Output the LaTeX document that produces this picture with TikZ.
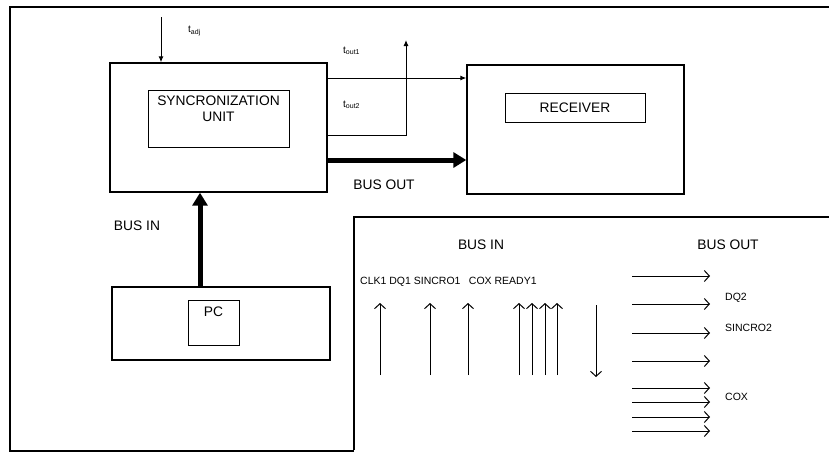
\documentclass[tikz,border=0pt]{standalone}
\usepackage{fontspec}
\setmainfont{Liberation Sans}
\usetikzlibrary{arrows,arrows.meta,positioning,calc}

\begin{document}
\begin{tikzpicture}[
    x=1pt, y=-1pt,
    frame/.style={line width=1.3pt},
    block/.style={draw, rectangle, line width=1.4pt, inner sep=0pt},
    inblock/.style={draw, rectangle, line width=1pt, inner sep=0pt},
    lbl/.style={font=\fontsize{13.8}{16}\selectfont, inner sep=0pt, align=center},
    sig/.style={font=\fontsize{10.5}{12}\selectfont, inner sep=0pt},
    tlbl/.style={font=\fontsize{10}{12}\selectfont, inner sep=0pt},
    bus/.style={line width=5pt, -{Triangle[length=13pt,width=15pt]}},
    wire/.style={line width=1pt, -{Latex[length=6pt,width=5pt]}},
    bitarrow/.style={line width=1pt, -{Straight Barb[length=5pt,width=11pt]}}
]
    \useasboundingbox (0,0) rectangle (829,453);
    \draw[frame] (829,7) -- (10,7) -- (10,451) -- (354,451);
    \draw[frame] (829,217) -- (354,217) -- (354,450);

    \node[block, minimum width=217pt, minimum height=129pt] (sync) at (218.5,127.5) {};
    \node[inblock, minimum width=141pt, minimum height=57pt] (syncin) at (218.5,118.5) {};
    \node[lbl, below=6pt of syncin.north] (synctxt) {SYNCRONIZATION\\UNIT};

    \node[block, minimum width=217pt, minimum height=129pt] (rxbox) at (575.5,129.5) {};
    \node[inblock, lbl, minimum width=140pt, minimum height=29pt] (rx) at (575,107.5) {RECEIVER};

    \node[block, minimum width=218pt, minimum height=73pt] (pcbox) at (221,323.5) {};
    \node[inblock, minimum width=51pt, minimum height=45pt] (pc) at (213.5,322.5) {};
    \node[lbl, below=7pt of pc.north] (pctxt) {PC};

    \coordinate (tadj) at (161,17);
    \coordinate (tout1) at (0,78);
    \coordinate (tout2) at (0,135);
    \coordinate (tup) at (406,40);
    \coordinate (busout) at (0,160);
    \coordinate (busin) at (200,0);

    \draw[wire] (tadj) -- (sync.north -| tadj);
    \draw[wire] (sync.east |- tout1) -- (rxbox.west |- tout1);
    \draw[wire] (sync.east |- tout2) -| (tup);
    \draw[bus] (sync.east |- busout) -- (rxbox.west |- busout);
    \draw[bus] (pcbox.north -| busin) -- (sync.south -| busin);

    \node[tlbl, anchor=west] (tadjlbl) at (188,31) {t\textsubscript{adj}};
    \node[tlbl, anchor=west] (tout1lbl) at (343,51) {t\textsubscript{out1}};
    \node[tlbl, anchor=west] (tout2lbl) at (343,105) {t\textsubscript{out2}};
    \node[lbl] (busoutlbl) at (384,185) {BUS OUT};
    \node[lbl] (businlbl) at (137,226) {BUS IN};

    \node[lbl] (pbusin) at (481,245) {BUS IN};
    \node[lbl] (pbusout) at (728,245) {BUS OUT};
    \node[sig, anchor=west] (sigin) at (360,282) {CLK1 DQ1 SINCRO1\hspace{0.8em}COX READY1};
    \foreach \x in {380,430,468,519,532,545,557}
        \draw[bitarrow] (\x,375) -- (\x,303);
    \draw[bitarrow] (596,305) -- (596,377);
    \foreach \y in {276,304,333,361,388,402,417,431}
        \draw[bitarrow] (632,\y) -- (710,\y);
    \node[sig, anchor=west] (dq2) at (725,298) {DQ2};
    \node[sig, anchor=west] (sincro2) at (725,328) {SINCRO2};
    \node[sig, anchor=west] (cox) at (725,397) {COX};
\end{tikzpicture}
\end{document}
